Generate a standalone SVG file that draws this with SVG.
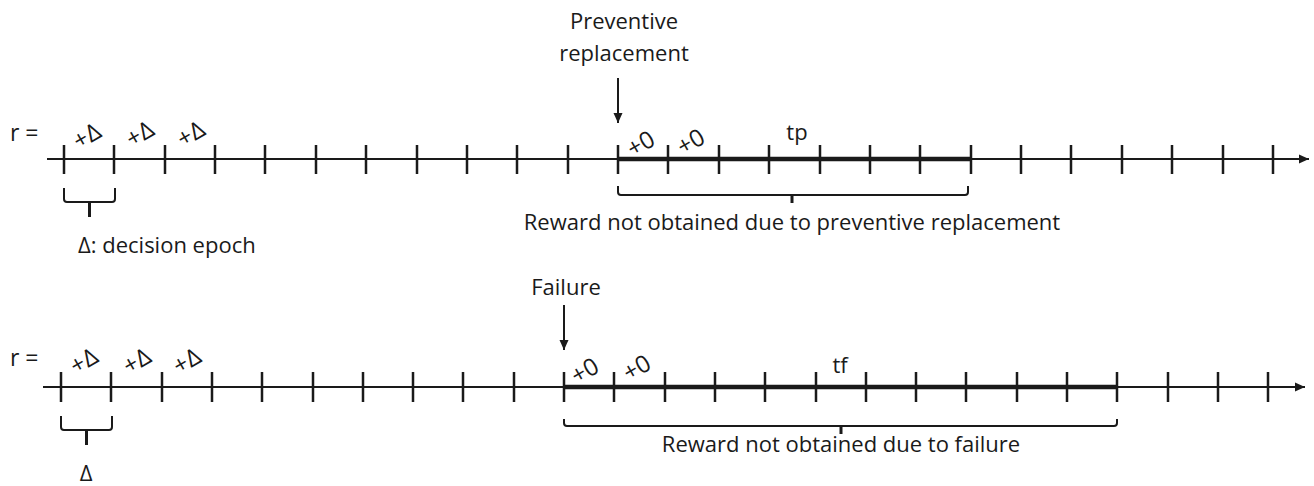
<svg xmlns="http://www.w3.org/2000/svg" width="1314" height="486" viewBox="0 0 1314 486">
<defs>
<marker id="ah" viewBox="0 0 10 10" refX="10" refY="5" markerWidth="10" markerHeight="10" markerUnits="userSpaceOnUse" orient="auto">
<path d="M0,0.5 L10,5 L0,9.5 Z" fill="#1a1a1a"/>
</marker>
<marker id="ah2" viewBox="0 0 10 10" refX="10" refY="5" markerWidth="11" markerHeight="10" markerUnits="userSpaceOnUse" orient="auto">
<path d="M0,0.5 L10,5 L0,9.5 Z" fill="#1a1a1a"/>
</marker>
</defs>
<style>
text{font-family:"Open Sans","Noto Sans",sans-serif;fill:#1a1a1a;font-size:22px}
.lbl{font-size:24px}
.r{font-size:23px}
.axis{stroke:#1a1a1a;stroke-width:2;fill:none}
.tick{stroke:#1a1a1a;stroke-width:2.5;fill:none}
.thick{stroke:#1a1a1a;stroke-width:4.5;fill:none}
.brace{stroke:#1a1a1a;stroke-width:2;fill:none}
.stem{stroke:#1a1a1a;stroke-width:3;fill:none}
</style>
<rect width="1314" height="486" fill="#ffffff"/>

<g id="connectors">
<line class="axis" x1="47" y1="159" x2="1309" y2="159" marker-end="url(#ah2)"/>
<path class="tick" d="M64,145V174M114,145V174M165,145V174M215,145V174M265,145V174M316,145V174M366,145V174M417,145V174M467,145V174M517,145V174M568,145V174M618,145V174M668,145V174M719,145V174M769,145V174M820,145V174M870,145V174M920,145V174M971,145V174M1021,145V174M1071,145V174M1122,145V174M1172,145V174M1223,145V174M1273,145V174"/>
<line class="thick" x1="618" y1="159" x2="970" y2="159"/>
<line class="axis" x1="618" y1="78" x2="618" y2="123" marker-end="url(#ah)"/>
<path class="brace" d="M64,188V199Q64,202 67,202H112Q115,202 115,199V188"/>
<path class="stem" d="M89.5,202V217"/>
<path class="brace" d="M618,186V192Q618,195 621,195H965Q968,195 968,192V186"/>
<path class="stem" d="M792,195V203"/>

<line class="axis" x1="43" y1="387" x2="1305" y2="387" marker-end="url(#ah2)"/>
<path class="tick" d="M61,372V402M111,372V402M162,372V402M212,372V402M262,372V402M313,372V402M363,372V402M413,372V402M463,372V402M514,372V402M564,372V402M614,372V402M665,372V402M715,372V402M765,372V402M816,372V402M866,372V402M916,372V402M966,372V402M1017,372V402M1067,372V402M1117,372V402M1168,372V402M1218,372V402M1268,372V402"/>
<line class="thick" x1="564" y1="387" x2="1117" y2="387"/>
<line class="axis" x1="564" y1="305" x2="564" y2="350" marker-end="url(#ah)"/>
<path class="brace" d="M61,416V427Q61,430 64,430H109Q112,430 112,427V416"/>
<path class="stem" d="M86.5,430V445"/>
<path class="brace" d="M564,419V423Q564,426 567,426H1114Q1117,426 1117,423V419"/>
<path class="stem" d="M841,426V434"/>
</g>

<g id="top-timeline">
<text class="r" x="10" y="141">r =</text>
<text class="lbl" text-anchor="middle" transform="translate(91,143) rotate(-30)">+Δ</text>
<text class="lbl" text-anchor="middle" transform="translate(144,141) rotate(-30)">+Δ</text>
<text class="lbl" text-anchor="middle" transform="translate(195,141) rotate(-30)">+Δ</text>
<text class="lbl" text-anchor="middle" transform="translate(645,151) rotate(-30)">+0</text>
<text class="lbl" text-anchor="middle" transform="translate(695,149) rotate(-30)">+0</text>
<text x="797" y="140" text-anchor="middle">tp</text>
</g>

<g id="preventive-label">
<text x="624" y="29" text-anchor="middle">Preventive</text>
<text x="624" y="61" text-anchor="middle">replacement</text>
</g>

<g id="decision-epoch-label">
<text x="78" y="253">Δ: decision epoch</text>
</g>

<g id="preventive-reward-label">
<text x="792" y="230" text-anchor="middle">Reward not obtained due to preventive replacement</text>
</g>

<g id="bottom-timeline">
<text class="r" x="10" y="366">r =</text>
<text class="lbl" text-anchor="middle" transform="translate(88,368) rotate(-30)">+Δ</text>
<text class="lbl" text-anchor="middle" transform="translate(141,368) rotate(-30)">+Δ</text>
<text class="lbl" text-anchor="middle" transform="translate(191,368) rotate(-30)">+Δ</text>
<text class="lbl" text-anchor="middle" transform="translate(589,378) rotate(-30)">+0</text>
<text class="lbl" text-anchor="middle" transform="translate(641,375) rotate(-30)">+0</text>
<text x="840" y="373" text-anchor="middle">tf</text>
</g>

<g id="failure-label">
<text x="566" y="295" text-anchor="middle">Failure</text>
</g>

<g id="failure-reward-label">
<text x="841" y="452" text-anchor="middle">Reward not obtained due to failure</text>
</g>

<g id="delta-label">
<text x="86" y="481" text-anchor="middle">Δ</text>
</g>
</svg>
